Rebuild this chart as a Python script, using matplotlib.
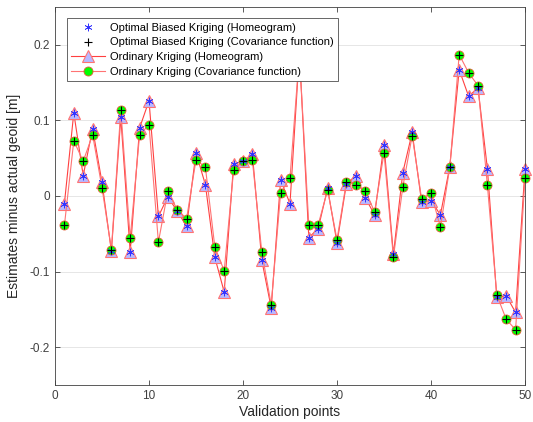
import numpy as np
import matplotlib
matplotlib.use("Agg")
from matplotlib import pyplot as plt

plt.rcParams['font.family'] = ['Liberation Sans', 'DejaVu Sans']

# validation point index
points = np.arange(1, 51)

# homeogram based estimates minus geoid [m]
homeogram = [-0.010, 0.110, 0.027, 0.089, 0.018, -0.073, 0.104, -0.074, 0.090, 0.126,
             -0.027, -0.001, -0.020, -0.040, 0.057, 0.015, -0.081, -0.127, 0.042, 0.046,
             0.055, -0.085, -0.148, 0.021, -0.010, 0.190, -0.055, -0.043, 0.010, -0.062,
             0.016, 0.027, -0.002, -0.025, 0.068, -0.077, 0.031, 0.084, -0.008, -0.006,
             -0.025, 0.039, 0.167, 0.132, 0.143, 0.036, -0.134, -0.132, -0.154, 0.036]

# covariance function based estimates minus geoid [m]
covfunc = [-0.039, 0.073, 0.046, 0.081, 0.011, -0.071, 0.114, -0.056, 0.081, 0.094,
           -0.061, 0.006, -0.018, -0.030, 0.048, 0.038, -0.067, -0.099, 0.034, 0.046,
           0.047, -0.074, -0.144, 0.004, 0.024, 0.188, -0.038, -0.038, 0.008, -0.058,
           0.019, 0.015, 0.007, -0.021, 0.057, -0.081, 0.012, 0.080, -0.004, 0.004,
           -0.041, 0.038, 0.187, 0.163, 0.146, 0.014, -0.131, -0.163, -0.177, 0.024]

fig = plt.figure(figsize=(5.33, 4.22), dpi=100)
ax = fig.add_axes([55/533, 1-385/422, 470/533, 378/422])

axcol = '0.25'
l3, = ax.plot(points, homeogram, '-', color=(1, 0.25, 0.25), lw=0.8, marker='^',
              ms=8.5, mfc=(0.72, 0.72, 1.0), mec=(1, 0.45, 0.45), mew=0.8, zorder=2,
              clip_on=False)
l4, = ax.plot(points, covfunc, '-', color=(1, 0.45, 0.45), lw=0.8, marker='o',
              ms=6.5, mfc=(0, 1, 0), mec=(0.9, 0.35, 0.2), mew=0.6, zorder=2,
              clip_on=False)
l1, = ax.plot(points, homeogram, ls='none', marker=(6, 2, 0), ms=5.5, color=(0.2, 0.2, 1),
              mew=0.5, zorder=3, clip_on=False)
l2, = ax.plot(points, covfunc, ls='none', marker='+', ms=6, color='black',
              mew=0.8, zorder=3, clip_on=False)

ax.set_xlim(0, 50)
ax.set_ylim(-0.25, 0.25)
ax.set_xticks([0, 10, 20, 30, 40, 50])
ax.set_yticks([-0.2, -0.1, 0, 0.1, 0.2])
ax.set_yticklabels(['-0.2', '-0.1', '0', '0.1', '0.2'])
ax.yaxis.grid(True, color='0.9', lw=0.7)
ax.set_axisbelow(True)
ax.tick_params(direction='in', top=True, right=True, labelsize=8.5,
               colors=axcol, length=3.5, width=0.6)
for s in ax.spines.values():
    s.set_color(axcol)
    s.set_linewidth(0.6)

ax.set_xlabel('Validation points', fontsize=10, color='0.15', labelpad=2)
ax.set_ylabel('Estimates minus actual geoid [m]', fontsize=10, color='0.15', labelpad=6)

leg = ax.legend([l1, l2, l3, l4],
                ['Optimal Biased Kriging (Homeogram)',
                 'Optimal Biased Kriging (Covariance function)',
                 'Ordinary Kriging (Homeogram)',
                 'Ordinary Kriging (Covariance function)'],
                loc='upper left', bbox_to_anchor=(0.025, 0.97), fontsize=8,
                fancybox=False, framealpha=1, edgecolor='0.3', handlelength=3,
                labelspacing=0.42, borderpad=0.4, handletextpad=0.5, borderaxespad=0)
leg.get_frame().set_linewidth(0.6)
leg.set_zorder(5)

fig.savefig('out.png', dpi=100)
